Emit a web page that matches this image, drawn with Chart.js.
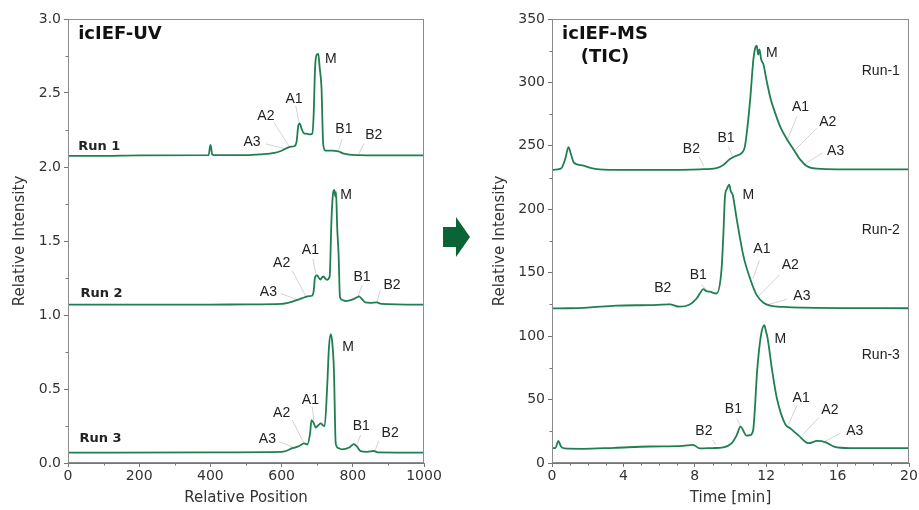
<!DOCTYPE html>
<html>
<head>
<meta charset="utf-8">
<script src="https://cdn.jsdelivr.net/npm/chart.js@4.4.1/dist/chart.umd.min.js"></script>
<style>
  html, body { margin: 0; padding: 0; background: #fff; }
  #wrap { position: relative; width: 919px; height: 510px; overflow: hidden; }
  #uvBox { position: absolute; left: 0; top: 0; width: 460px; height: 510px; }
  #msBox { position: absolute; left: 484px; top: 0; width: 435px; height: 510px; }
  #arrow { position: absolute; left: 440px; top: 214px; }
</style>
</head>
<body>
<div id="wrap">
  <div id="uvBox"><canvas id="uvChart"></canvas></div>
  <div id="msBox"><canvas id="msChart"></canvas></div>
  <svg id="arrow" width="34" height="46" viewBox="0 0 34 46">
    <polygon points="3,13 16,13 16,3 30,23 16,43 16,33 3,33" fill="#0a6435"/>
  </svg>
</div>
<script>
// ---- icIEF-UV traces (relative position, relative intensity) ----
const uvRun1Pos = [0, 100, 200, 395, 400, 402, 405, 410, 500, 540, 580, 600, 612, 626, 635, 642, 647, 651, 656, 663, 670, 680, 686, 690, 694, 699, 703, 707, 712, 717, 724, 740, 760, 775, 790, 817, 850, 1000];
const uvRun1Int = [2.075, 2.075, 2.078, 2.08, 2.15, 2.13, 2.085, 2.08, 2.08, 2.085, 2.095, 2.11, 2.125, 2.137, 2.14, 2.17, 2.28, 2.295, 2.26, 2.227, 2.225, 2.22, 2.225, 2.35, 2.67, 2.76, 2.765, 2.67, 2.54, 2.15, 2.11, 2.11, 2.105, 2.09, 2.083, 2.08, 2.078, 2.078];

const uvRun2Pos = [0, 400, 500, 600, 630, 649, 665, 677, 685, 690, 694, 700, 705, 709, 714, 718, 723, 727, 735, 740, 745, 748, 751, 753, 756, 760, 764, 772, 780, 800, 812, 817, 825, 835, 850, 867, 880, 1000];
const uvRun2Int = [1.07, 1.07, 1.072, 1.075, 1.09, 1.105, 1.12, 1.128, 1.13, 1.16, 1.256, 1.268, 1.25, 1.24, 1.255, 1.26, 1.245, 1.238, 1.26, 1.64, 1.83, 1.845, 1.80, 1.83, 1.6, 1.414, 1.12, 1.10, 1.094, 1.105, 1.12, 1.126, 1.11, 1.085, 1.082, 1.085, 1.075, 1.07];

const uvRun3Pos = [0, 400, 600, 612, 630, 650, 663, 672, 680, 684, 690, 696, 703, 710, 716, 721, 728, 733, 738, 742, 747, 752, 760, 770, 790, 803, 812, 822, 840, 859, 870, 1000];
const uvRun3Int = [0.07, 0.072, 0.075, 0.081, 0.10, 0.115, 0.133, 0.125, 0.2, 0.29, 0.27, 0.24, 0.255, 0.268, 0.255, 0.25, 0.515, 0.78, 0.87, 0.82, 0.627, 0.133, 0.10, 0.092, 0.105, 0.128, 0.11, 0.08, 0.075, 0.081, 0.072, 0.07];

// ---- icIEF-MS TIC traces (time in min, relative intensity) ----
const msRun1Time = [0, 0.5, 0.75, 0.92, 1.05, 1.24, 1.7, 2.2, 2.65, 4, 6, 8.28, 9.2, 9.6, 9.97, 10.3, 10.6, 10.8, 10.95, 11.1, 11.28, 11.38, 11.47, 11.55, 11.62, 11.72, 11.85, 12.0, 12.23, 12.5, 12.79, 13.17, 13.54, 13.92, 14.29, 14.86, 16, 20];
const msRun1Int = [231, 232, 240, 249, 244, 236.5, 234.6, 232.5, 231.5, 231, 231, 231.5, 232.5, 235, 239.6, 242, 244, 249, 265, 286, 318, 327, 329, 322, 326, 318, 314, 303, 288, 276, 265, 255, 247, 239, 234, 232, 231.5, 231.5];

const msRun2Time = [0, 1, 2, 3.59, 5.46, 6.6, 7.15, 7.72, 8.1, 8.3, 8.47, 8.65, 8.85, 9.22, 9.5, 9.6, 9.69, 9.8, 9.93, 10.02, 10.12, 10.35, 10.72, 11.1, 11.47, 11.85, 12.23, 12.98, 14, 20];
const msRun2Int = [121.9, 122, 122.5, 124, 124.5, 125, 123.2, 125, 129.7, 134, 137, 135.5, 135, 133.6, 153, 180, 210, 216, 219.5, 214, 211.7, 192, 163.5, 145.3, 132.3, 126.3, 124, 123, 122.5, 122];

const msRun3Time = [0, 0.2, 0.36, 0.5, 0.7, 1.7, 3.5, 5.46, 7.34, 7.9, 8.28, 9.0, 9.6, 10.07, 10.35, 10.56, 10.9, 11.1, 11.27, 11.5, 11.7, 11.89, 12.0, 12.07, 12.32, 12.6, 13.07, 13.35, 13.82, 14.38, 14.86, 15.3, 15.8, 16.7, 20];
const msRun3Int = [11.7, 12, 17.4, 13, 11.5, 11.2, 12, 13, 13.5, 14.3, 11.5, 11.8, 12.3, 15.6, 22, 28.6, 21.6, 22, 26, 74, 100, 108.6, 103, 99, 74.2, 50.8, 30.5, 27.3, 21.6, 15.6, 17.4, 16.5, 13, 11.8, 11.7];

// ---- tick values ----
const uvMinorX = [100, 300, 500, 700, 900];
const uvMinorY = [0.25, 0.75, 1.25, 1.75, 2.25, 2.75];
const msMinorX = [1, 2, 3, 5, 6, 7, 9, 10, 11, 13, 14, 15, 17, 18, 19];
const msMinorY = [25, 75, 125, 175, 225, 275, 325];

// ---- peak annotations: text anchor and leader line, in data units ----
const uvPeakLabels = [
  { t: 'A3', x: 517, y: 2.167, l: [556, 2.156, 612, 2.122] },
  { t: 'A2', x: 556, y: 2.347, l: [579, 2.30, 621, 2.14] },
  { t: 'A1', x: 635, y: 2.459, l: [640, 2.414, 649, 2.30] },
  { t: 'M',  x: 738, y: 2.729 },
  { t: 'B1', x: 775, y: 2.257, l: [770, 2.19, 761, 2.12] },
  { t: 'B2', x: 859, y: 2.212, l: [831, 2.156, 817, 2.09] },
  { t: 'A3', x: 563, y: 1.155, l: [598, 1.144, 644, 1.104] },
  { t: 'A2', x: 600, y: 1.351, l: [630, 1.30, 668, 1.126] },
  { t: 'A1', x: 681, y: 1.436, l: [688, 1.38, 697, 1.268] },
  { t: 'M',  x: 781, y: 1.807 },
  { t: 'B1', x: 826, y: 1.256, l: [826, 1.20, 815, 1.126] },
  { t: 'B2', x: 910, y: 1.20, l: [877, 1.167, 868, 1.088] },
  { t: 'A3', x: 560, y: 0.16, l: [593, 0.144, 640, 0.099] },
  { t: 'A2', x: 600, y: 0.339, l: [630, 0.29, 663, 0.133] },
  { t: 'A1', x: 681, y: 0.425, l: [686, 0.38, 691, 0.28] },
  { t: 'M',  x: 787, y: 0.78 },
  { t: 'B1', x: 824, y: 0.25, l: [822, 0.19, 812, 0.128] },
  { t: 'B2', x: 905, y: 0.20, l: [873, 0.15, 863, 0.088] }
];
const uvRunLabels = [
  { t: 'Run 1', x: 29, y: 2.135 },
  { t: 'Run 2', x: 35, y: 1.144 },
  { t: 'Run 3', x: 32, y: 0.162 }
];

const msPeakLabels = [
  { t: 'B2', x: 7.81, y: 247.4, l: [8.24, 241.6, 8.51, 233.8] },
  { t: 'B1', x: 9.75, y: 256, l: [9.88, 249.5, 10.12, 241.6] },
  { t: 'M',  x: 12.32, y: 322.9 },
  { t: 'A1', x: 13.92, y: 280.7, l: [13.73, 273.4, 13.2, 255.2] },
  { t: 'A2', x: 15.45, y: 269, l: [14.82, 263.8, 13.63, 246.9] },
  { t: 'A3', x: 15.89, y: 245.5, l: [15.14, 244.3, 14.25, 236.5] },
  { t: 'B2', x: 6.21, y: 138, l: [6.5, 126.3, 6.78, 123.7] },
  { t: 'B1', x: 8.19, y: 147.7, l: [8.38, 140.6, 8.66, 136.2] },
  { t: 'M',  x: 11.0, y: 210.9 },
  { t: 'A1', x: 11.76, y: 168.75, l: [11.62, 159.6, 11.25, 145.3] },
  { t: 'A2', x: 13.35, y: 155.7, l: [12.75, 148.4, 11.57, 131.5] },
  { t: 'A3', x: 14.0, y: 131.8, l: [13.17, 129.1, 12.13, 125] },
  { t: 'B2', x: 8.51, y: 24.8, l: [9.0, 18.2, 9.18, 14.3] },
  { t: 'B1', x: 10.16, y: 42.4, l: [10.35, 35.2, 10.57, 28.7] },
  { t: 'M',  x: 12.79, y: 97.7 },
  { t: 'A1', x: 13.96, y: 51.3, l: [13.73, 45.5, 13.25, 30.5] },
  { t: 'A2', x: 15.57, y: 41.6, l: [14.94, 35.7, 14.0, 21.6] },
  { t: 'A3', x: 16.96, y: 25.2, l: [16.17, 23.4, 15.27, 17] }
];
const msRunLabels = [
  { t: 'Run-1', x: 18.42, y: 308.6 },
  { t: 'Run-2', x: 18.42, y: 183.4 },
  { t: 'Run-3', x: 18.42, y: 85.4 }
];

const lineColor = '#1f7f52';
const tickFont = { family: '"DejaVu Sans", sans-serif', size: 14 };
const titleFont = { family: '"DejaVu Sans", sans-serif', size: 15 };

function pairs(xs, ys) {
  return xs.map((v, i) => ({ x: v, y: ys[i] }));
}

function trace(xs, ys) {
  return {
    data: pairs(xs, ys),
    borderColor: lineColor,
    borderWidth: 1.8,
    pointRadius: 0,
    fill: false,
    cubicInterpolationMode: 'monotone'
  };
}

// frame, minor ticks, peak labels and panel titles
const decorPlugin = {
  id: 'decor',
  beforeDatasetsDraw(chart, args, o) {
    const { ctx, scales: { x, y } } = chart;
    ctx.save();
    ctx.strokeStyle = '#c8c8c8';
    ctx.lineWidth = 0.8;
    o.peaks.forEach(p => {
      if (!p.l) return;
      ctx.beginPath();
      ctx.moveTo(x.getPixelForValue(p.l[0]), y.getPixelForValue(p.l[1]));
      ctx.lineTo(x.getPixelForValue(p.l[2]), y.getPixelForValue(p.l[3]));
      ctx.stroke();
    });
    ctx.restore();
  },
  afterDatasetsDraw(chart, args, o) {
    const { ctx, chartArea: a, scales: { x, y } } = chart;
    ctx.save();
    ctx.strokeStyle = '#8c8c8c';
    ctx.lineWidth = 1;
    ctx.strokeRect(a.left + 0.5, a.top + 0.5, a.width - 1, a.height - 1);

    ctx.strokeStyle = '#777';
    ctx.beginPath();
    o.minorX.forEach(v => {
      const px = Math.round(x.getPixelForValue(v)) + 0.5;
      ctx.moveTo(px, a.bottom);
      ctx.lineTo(px, a.bottom + 2.5);
    });
    o.minorY.forEach(v => {
      const py = Math.round(y.getPixelForValue(v)) + 0.5;
      ctx.moveTo(a.left, py);
      ctx.lineTo(a.left - 2.5, py);
    });
    ctx.stroke();

    ctx.fillStyle = '#222';
    ctx.font = '14px "Liberation Sans", Arial, sans-serif';
    ctx.textAlign = 'center';
    ctx.textBaseline = 'middle';
    o.peaks.forEach(p => {
      ctx.fillText(p.t, x.getPixelForValue(p.x), y.getPixelForValue(p.y));
    });

    ctx.font = o.runFont;
    ctx.textAlign = o.runAlign;
    o.runs.forEach(r => {
      ctx.fillText(r.t, x.getPixelForValue(r.x), y.getPixelForValue(r.y));
    });

    ctx.fillStyle = '#111';
    ctx.font = 'bold 18px "DejaVu Sans", sans-serif';
    ctx.textAlign = 'center';
    o.title.forEach((t, i) => {
      ctx.fillText(t, a.left + o.titleX, a.top + 15 + i * 23);
    });
    ctx.restore();
  }
};

function makeOptions(cfg) {
  return {
    responsive: true,
    maintainAspectRatio: false,
    animation: false,
    layout: { padding: { left: 0, top: 19, right: cfg.padRight, bottom: 0 } },
    plugins: {
      legend: { display: false },
      tooltip: { enabled: false },
      decor: cfg.decor
    },
    scales: {
      x: {
        type: 'linear',
        min: cfg.xMin, max: cfg.xMax,
        afterFit: s => { s.height = 47; },
        ticks: { stepSize: cfg.xStep, color: '#333', font: tickFont, padding: 1, maxRotation: 0, callback: v => String(v) },
        grid: { display: true, drawOnChartArea: false, drawTicks: true, tickLength: 4, color: '#777' },
        border: { display: true, color: '#777' },
        title: { display: true, text: cfg.xTitle, color: '#333', font: titleFont, padding: { top: 0, bottom: 3 } }
      },
      y: {
        type: 'linear',
        min: cfg.yMin, max: cfg.yMax,
        afterFit: s => { s.width = 68; },
        ticks: { stepSize: cfg.yStep, color: '#333', font: tickFont, padding: 3, callback: cfg.yFmt },
        grid: { display: true, drawOnChartArea: false, drawTicks: true, tickLength: 4, color: '#777' },
        border: { display: true, color: '#777' },
        title: { display: true, text: 'Relative Intensity', color: '#333', font: titleFont, padding: { top: cfg.yTitlePad, bottom: 0 } }
      }
    }
  };
}

new Chart(document.getElementById('uvChart'), {
  type: 'line',
  data: {
    datasets: [
      trace(uvRun1Pos, uvRun1Int),
      trace(uvRun2Pos, uvRun2Int),
      trace(uvRun3Pos, uvRun3Int)
    ]
  },
  options: makeOptions({
    xMin: 0, xMax: 1000, xStep: 200, xTitle: 'Relative Position',
    yMin: 0, yMax: 3, yStep: 0.5, yFmt: v => v.toFixed(1),
    padRight: 36, yTitlePad: 11,
    decor: {
      peaks: uvPeakLabels, runs: uvRunLabels,
      runFont: 'bold 13px "DejaVu Sans", sans-serif', runAlign: 'left',
      minorX: uvMinorX, minorY: uvMinorY,
      title: ['icIEF-UV'], titleX: 52
    }
  }),
  plugins: [decorPlugin]
});

new Chart(document.getElementById('msChart'), {
  type: 'line',
  data: {
    datasets: [
      trace(msRun1Time, msRun1Int),
      trace(msRun2Time, msRun2Int),
      trace(msRun3Time, msRun3Int)
    ]
  },
  options: makeOptions({
    xMin: 0, xMax: 20, xStep: 4, xTitle: 'Time [min]',
    yMin: 0, yMax: 350, yStep: 50, yFmt: v => String(v),
    padRight: 10, yTitlePad: 7,
    decor: {
      peaks: msPeakLabels, runs: msRunLabels,
      runFont: '14px "Liberation Sans", Arial, sans-serif', runAlign: 'center',
      minorX: msMinorX, minorY: msMinorY,
      title: ['icIEF-MS', '(TIC)'], titleX: 53
    }
  }),
  plugins: [decorPlugin]
});
</script>
</body>
</html>
